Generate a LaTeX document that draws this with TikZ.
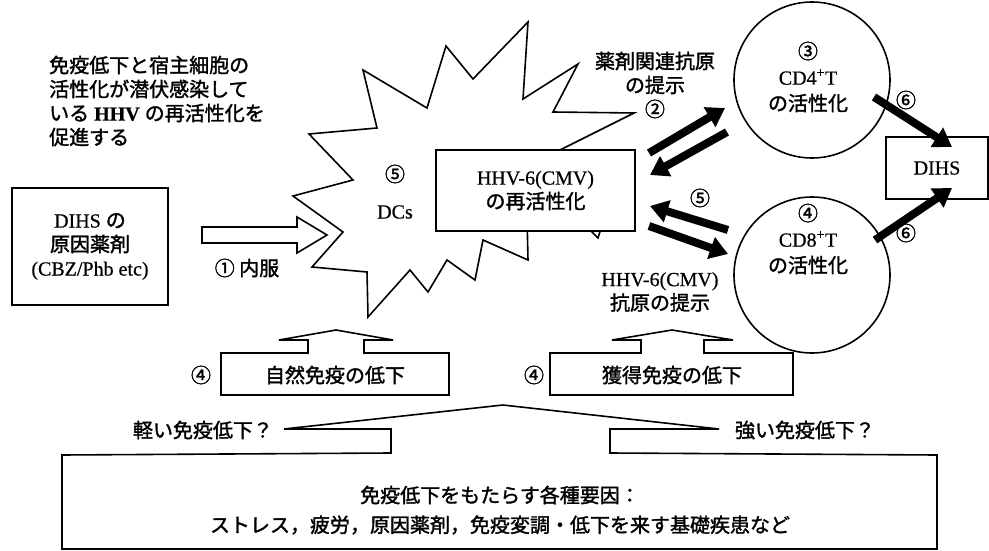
\documentclass[tikz,border=0pt]{standalone}
\usepackage{fontspec}
\setmainfont{Liberation Serif}[FakeBold=0.6]
\newfontfamily\jp{Noto Sans CJK JP}[FakeBold=1.6]
\usetikzlibrary{arrows.meta}
\newcommand{\jt}[1]{{\jp #1}}
\begin{document}
\begin{tikzpicture}[x=1pt,y=-1pt,
  ol/.style={line width=1.6pt, line join=miter},
  txt/.style={font=\fontsize{20}{24}\selectfont, inner sep=0pt, align=center},
  txtc/.style={font=\fontsize{20}{26}\selectfont, inner sep=0pt, align=center},
  barrow/.style={line width=8pt, -{Triangle[length=18pt,width=22pt]}},
]
\useasboundingbox (0,0) rectangle (989,551);

% left explanatory text
\node[txt, align=left, anchor=west] (note) at (49,101)
  {\jt{免疫低下と宿主細胞の}\\\jt{活性化が潜伏感染して}\\\jt{いる} \textbf{HHV} \jt{の再活性化を}\\\jt{促進する}};

% star (DCs)
\draw[ol, fill=white] (309,134) -- (377,128) -- (363,70) -- (427,108) -- (446,46) -- (473,79)
  -- (528,22) -- (523,99) -- (578,64) -- (553,112) -- (634,113) -- (560,150) -- (610,200)
  -- (598,238) -- (575,215) -- (527,215) -- (528,260) -- (483,240) -- (475,280) -- (447,260)
  -- (428,292) -- (410,270) -- (368,317) -- (367,272) -- (312,267) -- (343,232) -- (293,196)
  -- (353,180) -- cycle;
\node[txt] (dc5) at (395,174) {\jt{⑤}};
\node[txt] (dcs) at (395,212) {DCs};

% HHV box
\node[draw, ol, fill=white, minimum width=199pt, minimum height=81pt, txt] (hhv) at (535.5,190.5)
  {HHV-6(CMV)\\\jt{の再活性化}};

% drug box and hollow arrow
\node[draw, ol, minimum width=156pt, minimum height=117pt, txt] (drug) at (90,246.5)
  {DIHS \jt{の}\\\jt{原因薬剤}\\(CBZ/Phb etc)};
\draw[ol] (202,227) -- (297,227) -- (297,217) -- (327,235) -- (297,253) -- (297,243) -- (202,243) -- cycle;
\node[txt] (oral) at (247,268) {\jt{① 内服}};

% circles
\node[draw, ol, circle, minimum size=156pt, inner sep=0pt] (cd4) at (812,80) {};
\node[txtc] (cd4t) at (808,77) {\jt{③}\\CD4\textsuperscript{+}T\\\jt{の活性化}};
\node[draw, ol, circle, minimum size=156pt, inner sep=0pt] (cd8) at (812,275) {};
\node[txtc] (cd8t) at (808,239) {\jt{④}\\CD8\textsuperscript{+}T\\\jt{の活性化}};

% DIHS box
\node[draw, ol, minimum width=102pt, minimum height=62pt, txt] (dihs) at (937,168) {DIHS};

% labels
\node[txt] (pres1) at (655,85) {\jt{薬剤関連抗原}\\\jt{の提示}\\\jt{②}};
\node[txt] (n5) at (700,198) {\jt{⑤}};
\node[txt] (pres2) at (660,292) {HHV-6(CMV)\\\jt{抗原の提示}};
\node[txt] (n6a) at (906,100) {\jt{⑥}};
\node[txt] (n6b) at (906,233) {\jt{⑥}};

% black arrows
\coordinate (a1s) at (649,153); \coordinate (a1e) at (725,108);
\coordinate (a2s) at (727,132); \coordinate (a2e) at (650,175);
\coordinate (a3s) at (728,230); \coordinate (a3e) at (650,206);
\coordinate (a4s) at (649,226); \coordinate (a4e) at (728,254);
\coordinate (a5s) at (874,97);  \coordinate (a5e) at (952,147);
\coordinate (a6s) at (875,240); \coordinate (a6e) at (952,188);
\draw[barrow] (a1s) -- (a1e);
\draw[barrow] (a2s) -- (a2e);
\draw[barrow] (a3s) -- (a3e);
\draw[barrow] (a4s) -- (a4e);
\draw[barrow] (a5s) -- (a5e);
\draw[barrow] (a6s) -- (a6e);

% immune boxes with hollow up arrows
\draw[ol] (221,395) -- (221,353) -- (308,353) -- (308,340) -- (279,340) -- (336,330) -- (393,340)
  -- (364,340) -- (364,353) -- (449,353) -- (449,395) -- cycle;
\node[txt] (nat) at (335,375) {\jt{自然免疫の低下}};
\node[txt] (nat4) at (201,375) {\jt{④}};
\draw[ol] (550,395) -- (550,353) -- (641,353) -- (641,340) -- (612,340) -- (672,330) -- (733,340)
  -- (704,340) -- (704,353) -- (793,353) -- (793,395) -- cycle;
\node[txt] (acq) at (672,375) {\jt{獲得免疫の低下}};
\node[txt] (acq4) at (534,375) {\jt{④}};

% bottom factors box
\draw[ol] (284,429) -- (503,405) -- (719,429) -- (610,429) -- (610,453) -- (937,455) -- (937,549)
  -- (62,549) -- (62,455) -- (391,453) -- (391,429) -- cycle;
\node[txt] (mild) at (203,430) {\jt{軽い免疫低下？}};
\node[txt] (strong) at (805,430) {\jt{強い免疫低下？}};
\node[txt] (fac1) at (500,495) {\jt{免疫低下をもたらす各種要因：}};
\node[txt] (fac2) at (500,525) {\jt{ストレス，疲労，原因薬剤，免疫変調・低下を来す基礎疾患など}};
\end{tikzpicture}
\end{document}
